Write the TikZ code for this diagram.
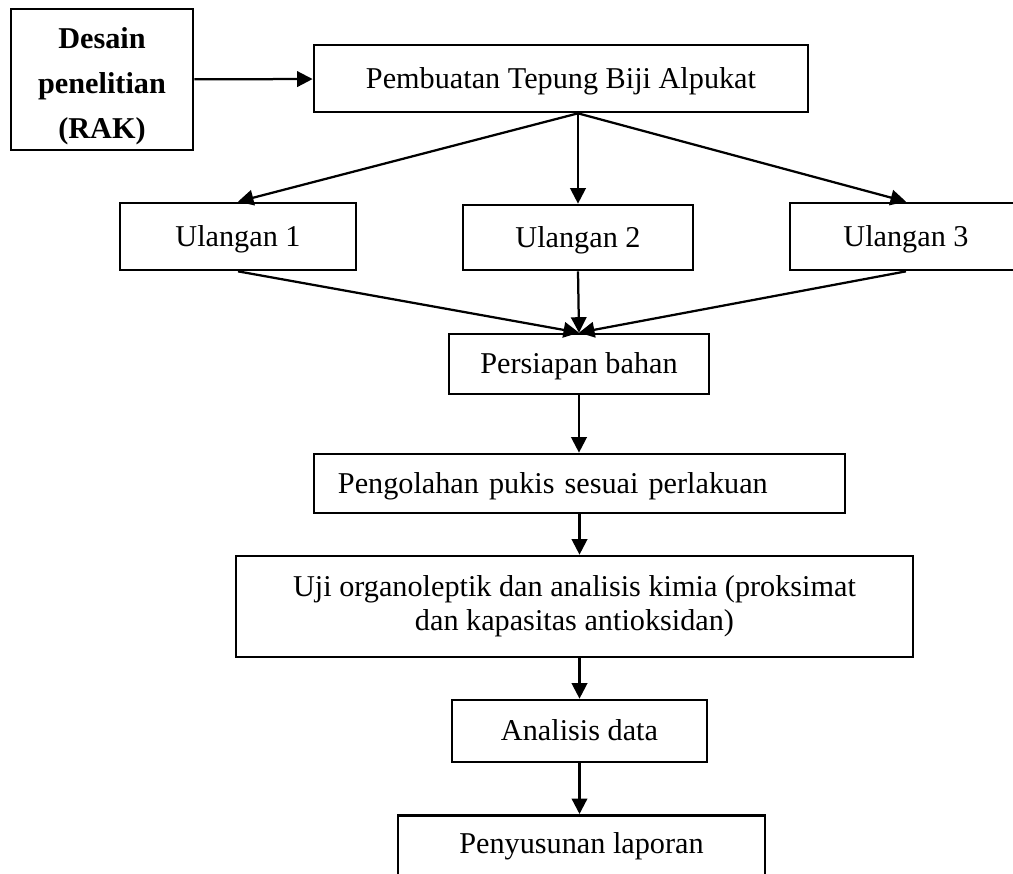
\documentclass[tikz,border=0pt]{standalone}
\usepackage{fontspec}
\setmainfont{Liberation Serif}
\usepackage{tikz}
\usetikzlibrary{arrows.meta, positioning}
\tikzstyle{arrow} = [line width=1.6pt,-{Triangle[length=11pt,width=11pt]}]
\tikzstyle{kotak} = [draw=black,line width=1.9pt,rectangle,inner sep=2pt]
\tikzstyle{satu} = [text height=19pt,text depth=5pt]

\begin{document}
\begin{tikzpicture}[x=0.025cm,y=-0.025cm,font=\fontsize{21.5}{24}\selectfont]
    \useasboundingbox (0,0) rectangle (1013,874);

    \node[kotak, minimum width=4.55cm, minimum height=3.525cm, align=center,
          font=\fontsize{21.5}{32}\selectfont\bfseries] (desain) at (102,79.5)
          {\rule{0pt}{25pt}Desain\\penelitian\\(RAK)};
    \node[kotak, satu, minimum width=12.35cm, minimum height=1.675cm] (buat) at (561,78.5)
          {Pembuatan Tepung Biji Alpukat};

    \node[kotak, satu, minimum width=5.9cm, minimum height=1.675cm] (ul1) at (238,236.5) {Ulangan 1};
    \node[kotak, satu, minimum width=5.75cm, minimum height=1.625cm] (ul2) at (578,237.5) {Ulangan 2};
    \node[kotak, satu, minimum width=5.8cm, minimum height=1.675cm] (ul3) at (906,236.5) {Ulangan 3};

    \node[kotak, satu, minimum width=6.5cm, minimum height=1.5cm] (siap) at (579,364) {Persiapan bahan};
    \node[kotak, satu, minimum height=1.475cm, inner xsep=0.6cm, text width=12.075cm, align=left]
          (olah) at (579.5,483.5) {Pengolahan pukis sesuai perlakuan};
    \node[kotak, minimum width=16.925cm, minimum height=2.525cm, align=center] (uji) at (574.5,606.5)
          {Uji organoleptik dan analisis kimia (proksimat\\dan kapasitas antioksidan)};
    \node[kotak, satu, minimum width=6.375cm, minimum height=1.55cm] (analisis) at (579.5,731) {Analisis data};
    \node[kotak, anchor=north, minimum width=9.175cm, inner ysep=0.42cm, text depth=2cm]
          (susun) at (581.5,814) {Penyusunan laporan};

    \draw[arrow] (desain) -- (buat);
    \draw[arrow] (buat.south -| ul2.north) -- (ul1.north);
    \draw[arrow] (buat.south -| ul2.north) -- (ul2.north);
    \draw[arrow] (buat.south -| ul2.north) -- (ul3.north);

    \draw[arrow] (ul1.south) -- (siap.north);
    \draw[arrow] (ul2.south) -- (siap.north);
    \draw[arrow] (ul3.south) -- (siap.north);

    \draw[arrow] (siap.south) -- (siap.south |- olah.north);
    \draw[arrow] (olah.south) -- (olah.south |- uji.north);
    \draw[arrow] (olah.south |- uji.south) -- (olah.south |- analisis.north);
    \draw[arrow] (analisis.south) -- (analisis.south |- susun.north);
\end{tikzpicture}
\end{document}
